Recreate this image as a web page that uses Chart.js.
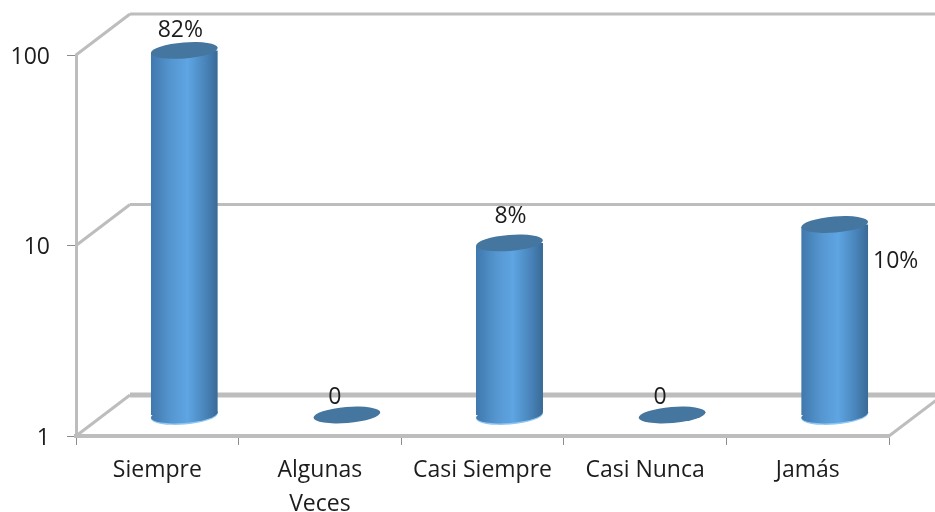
<!DOCTYPE html>
<html>
<head>
  <meta charset="utf-8">
  <title>Frecuencia</title>
  <script src="https://cdn.jsdelivr.net/npm/chart.js"></script>
  <style>
    body { margin: 0; background: #fff; }
    canvas { display: block; }
  </style>
</head>
<body>
  <canvas id="chart" width="935" height="512"></canvas>

  <script>
    const categories = ['Siempre', ['Algunas', 'Veces'], 'Casi Siempre', 'Casi Nunca', 'Jamás'];
    const values = [82, 0, 8, 0, 10];
    const valueLabels = ['82%', '0', '8%', '0', '10%'];
    const yTicks = [1, 10, 100];

    // where each value label sits, relative to the top of its cylinder
    const labelOffsets = [[-4, -20], [-12, -18], [1, -27], [-12, -18], [61, 37]];

    const FONT = '"Open Sans", sans-serif';
    const GRID = '#bdbdbd';
    const TEXT = '#1c1c1c';
    const BLUE_CAP = '#44769f';
    const BAR_SHARE = 0.412;
    const DEPTH_X = 54, DEPTH_Y = -41;   // back wall offset from the front plane
    const BAR_DX = 27, BAR_DY = -21;     // bars stand halfway into the floor
    const TILT = -0.08;

    function barHalf(chart) {
      return (chart.scales.x.width / values.length) * BAR_SHARE / 2;
    }

    function cylinderFill(ctx, cx, half) {
      const g = ctx.createLinearGradient(cx - half, 0, cx + half, 0);
      g.addColorStop(0, '#3f78ad');
      g.addColorStop(0.3, '#5596d0');
      g.addColorStop(0.55, '#5ea5e3');
      g.addColorStop(0.8, '#4a86bd');
      g.addColorStop(1, '#3a6a96');
      return g;
    }

    function line(ctx, pts, width) {
      ctx.beginPath();
      ctx.moveTo(pts[0][0], pts[0][1]);
      for (let i = 1; i < pts.length; i++) ctx.lineTo(pts[i][0], pts[i][1]);
      ctx.lineWidth = width;
      ctx.strokeStyle = GRID;
      ctx.stroke();
    }

    const cylinders = {
      id: 'cylinders',
      beforeDatasetsDraw(chart) {
        const { ctx, scales: { x, y }, chartArea: a } = chart;
        ctx.save();
        // 3D walls
        yTicks.forEach((t, i) => {
          const py = y.getPixelForValue(t);
          line(ctx, [[a.left, py], [a.left + DEPTH_X, py + DEPTH_Y]], 3);
          line(ctx, [[a.left + DEPTH_X, py + DEPTH_Y], [chart.width, py + DEPTH_Y]], i === 0 ? 5 : 3);
        });
        line(ctx, [[a.right, a.bottom], [a.right + DEPTH_X, a.bottom + DEPTH_Y]], 3);

        // rounded feet of the standing cylinders, with a light rim underneath
        const half = barHalf(chart);
        const lean = half * Math.sin(-TILT);
        const base = y.getPixelForValue(1) + BAR_DY;
        values.forEach((v, i) => {
          if (v <= 0) return;
          const cx = x.getPixelForValue(i) + BAR_DX;
          ctx.beginPath();
          ctx.ellipse(cx, base + 1, half, 8.5, TILT, 0, Math.PI * 2);
          ctx.fillStyle = '#8fc6f2';
          ctx.fill();
          ctx.beginPath();
          ctx.ellipse(cx, base, half, 8, TILT, 0, Math.PI * 2);
          ctx.fillStyle = cylinderFill(ctx, cx, half);
          ctx.fill();
        });
        ctx.restore();

        // trim the square bar corners so they follow the tilted caps
        ctx.save();
        ctx.beginPath();
        values.forEach((v, i) => {
          if (v <= 0) return;
          const cx = x.getPixelForValue(i) + BAR_DX;
          const top = y.getPixelForValue(v) + BAR_DY;
          ctx.moveTo(cx - half, top + lean);
          ctx.lineTo(cx + half, top - lean);
          ctx.lineTo(cx + half, base - lean);
          ctx.lineTo(cx - half, base + lean);
          ctx.closePath();
        });
        ctx.clip();
        ctx.translate(BAR_DX, BAR_DY);
      },
      afterDatasetsDraw(chart) {
        const { ctx, scales: { x, y } } = chart;
        ctx.restore();

        const half = barHalf(chart);
        values.forEach((v, i) => {
          const cx = x.getPixelForValue(i) + BAR_DX;
          const top = y.getPixelForValue(Math.max(v, 1)) + BAR_DY;
          ctx.beginPath();
          ctx.ellipse(cx, top, half, 8, TILT, 0, Math.PI * 2);
          ctx.fillStyle = BLUE_CAP;
          ctx.fill();

          ctx.font = '23px ' + FONT;
          ctx.fillStyle = TEXT;
          ctx.textAlign = 'center';
          ctx.textBaseline = 'middle';
          ctx.fillText(valueLabels[i], cx + labelOffsets[i][0], top + labelOffsets[i][1]);
        });
      }
    };

    new Chart(document.getElementById('chart'), {
      type: 'bar',
      data: {
        labels: categories,
        datasets: [{
          data: values,
          barPercentage: BAR_SHARE,
          categoryPercentage: 1,
          borderWidth: 0,
          clip: false,
          backgroundColor(c) {
            const half = barHalf(c.chart);
            const cx = c.chart.scales.x.getPixelForValue(c.dataIndex);
            if (!isFinite(cx) || !isFinite(half)) return '#5ea5e3';
            return cylinderFill(c.chart.ctx, cx, half);
          }
        }]
      },
      options: {
        responsive: false,
        animation: false,
        layout: { padding: { top: 55, right: 46, left: 0, bottom: 0 } },
        plugins: { legend: { display: false }, tooltip: { enabled: false } },
        scales: {
          x: {
            afterFit(axis) { axis.height = 76; },
            grid: { drawOnChartArea: false, color: '#8c8c8c', tickLength: 9, lineWidth: 1 },
            border: { color: GRID, width: 4 },
            ticks: {
              color: TEXT, padding: 9, maxRotation: 0, autoSkip: false,
              font: { family: FONT, size: 23, lineHeight: 1.45 }
            }
          },
          y: {
            type: 'logarithmic',
            min: 1,
            max: 100,
            afterFit(axis) { axis.width = 76; },
            afterBuildTicks(axis) { axis.ticks = yTicks.map(value => ({ value })); },
            grid: { drawOnChartArea: false, color: '#8c8c8c', tickLength: 9, lineWidth: 1 },
            border: { color: GRID, width: 3 },
            ticks: {
              color: TEXT, padding: 17, labelOffset: 2,
              font: { family: FONT, size: 23 },
              callback: value => String(value)
            }
          }
        }
      },
      plugins: [cylinders]
    });
  </script>
</body>
</html>
